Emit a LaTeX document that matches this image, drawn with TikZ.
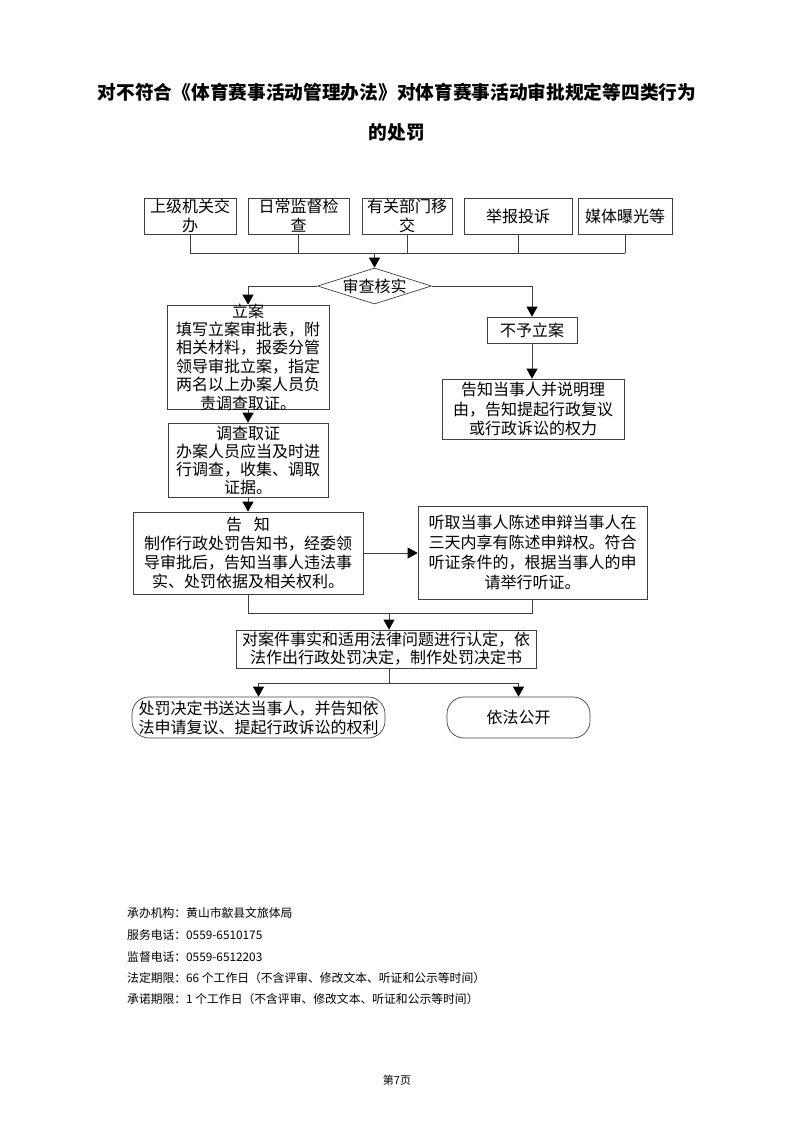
\documentclass[tikz,border=0pt]{standalone}
\usepackage{fontspec}
\setmainfont{Noto Sans CJK SC}
\usetikzlibrary{arrows.meta,shapes.geometric}
\tikzset{
  frame/.style={draw=black!75, line width=0.7pt, inner sep=0pt, minimum width=#1},
  txt/.style={inner sep=0pt, align=center, font=\fontsize{16}{19}\selectfont},
  ln/.style={draw=black!75, line width=0.7pt},
  arr/.style={ln, -{Triangle[length=10pt,width=11pt,black]}},
  foot/.style={anchor=west, inner sep=0pt, font=\fontsize{11.8}{13}\selectfont},
}
\begin{document}
\begin{tikzpicture}[x=1pt,y=-1pt]
\useasboundingbox (0,0) rectangle (793,1122);
% title
\node[inner sep=0pt, font=\fontsize{18.7}{20}\selectfont\bfseries] (t1) at (397,92) {对不符合《体育赛事活动管理办法》对体育赛事活动审批规定等四类行为};
\node[inner sep=0pt, font=\fontsize{18.7}{20}\selectfont\bfseries] (t2) at (397,132) {的处罚};
% top boxes
\node[frame=92pt, minimum height=36pt] (b1) at (190,216) {};
\node[txt] (b1t) at (b1) {上级机关交\\办};
\node[frame=101pt, minimum height=36pt] (b2) at (298.5,216) {};
\node[txt] (b2t) at (b2) {日常监督检\\查};
\node[frame=90pt, minimum height=36pt] (b3) at (407,216) {};
\node[txt] (b3t) at (b3) {有关部门移\\交};
\node[frame=108pt, minimum height=36pt] (b4) at (518,216) {};
\node[txt] (b4t) at (b4) {举报投诉};
\node[frame=94pt, minimum height=36pt] (b5) at (625,216) {};
\node[txt] (b5t) at (b5) {媒体曝光等};
\coordinate (bus) at (374.5,253);
\foreach \b in {b1,b2,b3,b4,b5} \draw[ln] (\b.south) -- (\b.south |- bus);
\draw[ln] (b1.south |- bus) -- (b5.south |- bus);
% diamond
\node[draw=black!75, line width=0.7pt, diamond, inner sep=0pt, minimum width=114pt, minimum height=36pt] (dia) at (374.5,286) {};
\node[txt] (diat) at (dia) {审查核实};
\draw[arr] (bus) -- (dia.north);
% left column
\node[frame=162pt, minimum height=104pt] (la) at (248,357) {};
\node[txt, font=\fontsize{16}{18.4}\selectfont] (lat) at (la) {立案\\填写立案审批表，附\\相关材料，报委分管\\领导审批立案，指定\\两名以上办案人员负\\责调查取证。};
\node[frame=160pt, minimum height=74pt] (dc) at (248,460) {};
\node[txt, font=\fontsize{16}{18}\selectfont] (dct) at (dc) {调查取证\\办案人员应当及时进\\行调查，收集、调取\\证据。};
% right column
\node[frame=90pt, minimum height=26pt] (by) at (532,330) {};
\node[txt] (byt) at (by) {不予立案};
\node[frame=182pt, minimum height=60pt] (bt) at (533,409) {};
\node[txt, font=\fontsize{16}{19.5}\selectfont] (btt) at (bt) {告知当事人并说明理\\由，告知提起行政复议\\或行政诉讼的权力};
\draw[arr] (dia.west) -| (la.north);
\draw[arr] (dia.east) -| (by.north);
\draw[arr] (by.south) -- (by.south |- bt.north);
\draw[arr] (la.south) -- (dc.north);
% notice
\node[frame=230pt, minimum height=82pt] (gz) at (248,553) {};
\node[txt, font=\fontsize{16}{19}\selectfont] (gzt) at (gz) {告\hspace{12pt}知\\制作行政处罚告知书，经委领\\导审批后，告知当事人违法事\\实、处罚依据及相关权利。\hspace{16pt}};
\node[frame=229pt, minimum height=93pt] (tq) at (532.5,552.5) {};
\node[txt, font=\fontsize{16}{20}\selectfont] (tqt) at (tq) {听取当事人陈述申辩当事人在\\三天内享有陈述申辩权。符合\\听证条件的，根据当事人的申\\请举行听证。};
\draw[arr] (dc.south) -- (gz.north);
\draw[arr] (gz.east) -- (gz.east -| tq.west);
% merge
\coordinate (m) at (389,613);
\draw[ln] (gz.south) |- (tq.south |- m) -- (tq.south);
\node[frame=300pt, minimum height=38pt] (dj) at (386,649) {};
\node[txt, font=\fontsize{16}{18}\selectfont] (djt) at (dj) {对案件事实和适用法律问题进行认定，依\\法作出行政处罚决定，制作处罚决定书};
\draw[arr] (m) -- (m |- dj.north);
% split
\coordinate (s) at (389,683);
\node[frame=253pt, minimum height=41pt, rounded corners=17pt] (ra) at (258.5,717.5) {};
\node[txt] (rat) at (ra) {处罚决定书送达当事人，并告知依\\法申请复议、提起行政诉讼的权利};
\node[frame=143pt, minimum height=41pt, rounded corners=17pt] (rb) at (518.5,717.5) {};
\node[txt] (rbt) at (rb) {依法公开};
\draw[ln] (m |- dj.south) -- (s);
\draw[ln] (ra.north |- s) -- (rb.north |- s);
\draw[arr] (ra.north |- s) -- (ra.north);
\draw[arr] (rb.north |- s) -- (rb.north);
% footer
\node[foot] (f1) at (127,913) {承办机构：黄山市歙县文旅体局};
\node[foot] (f2) at (127,935) {服务电话：0559-6510175};
\node[foot] (f3) at (127,957) {监督电话：0559-6512203};
\node[foot] (f4) at (127,978) {法定期限：66 个工作日（不含评审、修改文本、听证和公示等时间）};
\node[foot] (f5) at (127,999) {承诺期限：1 个工作日（不含评审、修改文本、听证和公示等时间）};
\node[inner sep=0pt, font=\fontsize{11}{13}\selectfont] (pg) at (397,1080) {第7页};
\end{tikzpicture}
\end{document}
